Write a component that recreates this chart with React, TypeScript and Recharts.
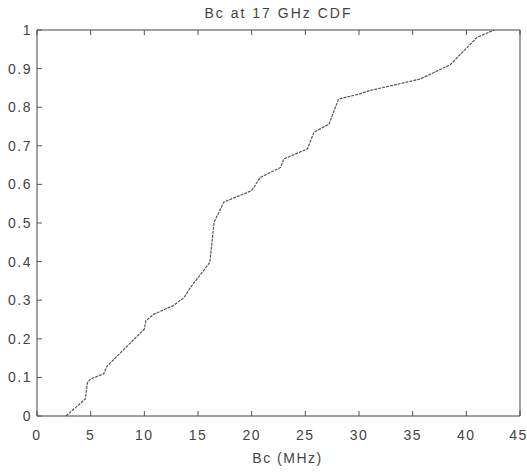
import React from 'react';
import { LineChart, Line, XAxis, YAxis } from 'recharts';

const bcMHz = [2.7, 4.5, 4.7, 5.0, 6.2, 6.55, 10.0, 10.15, 10.9, 12.7, 13.7, 14.3, 16.1, 16.3, 16.5, 17.4, 20.0, 20.8, 22.7, 23.0, 25.2, 25.8, 27.2, 28.1, 30.0, 31.0, 35.7, 38.5, 41.0, 42.6];
const cdf = [0, 0.044, 0.087, 0.096, 0.109, 0.13, 0.225, 0.247, 0.264, 0.286, 0.307, 0.333, 0.398, 0.45, 0.502, 0.554, 0.584, 0.618, 0.644, 0.666, 0.692, 0.735, 0.756, 0.821, 0.834, 0.843, 0.873, 0.91, 0.981, 1.0];
const xTicks = [0, 5, 10, 15, 20, 25, 30, 35, 40, 45];
const yTicks = [0, 0.1, 0.2, 0.3, 0.4, 0.5, 0.6, 0.7, 0.8, 0.9, 1];
const title = 'Bc at 17 GHz CDF';
const xLabel = 'Bc (MHz)';

const data = bcMHz.map((x, i) => ({ x, y: cdf[i] }));

const font = 'Liberation Sans, Arial, Helvetica, sans-serif';
const tickStyle = { fill: '#444', fontSize: 14, fontFamily: font, letterSpacing: 1.5 };
const axisColor = '#444';
const tickMark = { stroke: '#555', strokeWidth: 1 };
const blank = () => '';

export default function App() {
  return (
    <div style={{ position: 'absolute', left: 0, top: 0, width: 527, height: 472, background: '#fff' }}>
      <LineChart width={527} height={472} data={data} margin={{ top: 30, right: 6, bottom: 0, left: 0 }}>
        <XAxis
          xAxisId="bottom"
          type="number"
          dataKey="x"
          domain={[0, 45]}
          ticks={xTicks}
          orientation="bottom"
          height={56}
          stroke={axisColor}
          tickLine={false}
          tickSize={0}
          tickMargin={14}
          tick={tickStyle}
          label={{ value: xLabel, position: 'insideBottom', offset: 9, dx: 9, fill: '#444', fontSize: 14, fontFamily: font, letterSpacing: 1.5 }}
        />
        <XAxis
          xAxisId="bottomTicks"
          type="number"
          dataKey="x"
          domain={[0, 45]}
          ticks={xTicks}
          orientation="bottom"
          mirror
          height={1}
          axisLine={false}
          tickLine={tickMark}
          tickSize={5}
          tickFormatter={blank}
        />
        <XAxis
          xAxisId="top"
          type="number"
          dataKey="x"
          domain={[0, 45]}
          ticks={xTicks}
          orientation="top"
          mirror
          height={1}
          stroke={axisColor}
          tickLine={tickMark}
          tickSize={5}
          tickFormatter={blank}
          label={{ value: title, position: 'top', offset: 12, fill: '#444', fontSize: 14, fontFamily: font, letterSpacing: 2 }}
        />
        <YAxis
          yAxisId="left"
          type="number"
          domain={[0, 1]}
          ticks={yTicks}
          orientation="left"
          width={37}
          stroke={axisColor}
          tickLine={tickMark}
          tickSize={-5}
          tickMargin={10}
          tick={tickStyle}
          tickFormatter={(v: number) => String(Number(v.toFixed(1)))}
        />
        <YAxis
          yAxisId="right"
          type="number"
          domain={[0, 1]}
          ticks={yTicks}
          orientation="right"
          width={1}
          stroke={axisColor}
          tickLine={tickMark}
          tickSize={-5}
          tickFormatter={blank}
        />
        <Line
          xAxisId="bottom"
          yAxisId="left"
          type="linear"
          dataKey="y"
          stroke="#555"
          strokeWidth={1.2}
          strokeDasharray="3 1"
          dot={false}
          isAnimationActive={false}
        />
      </LineChart>
    </div>
  );
}
